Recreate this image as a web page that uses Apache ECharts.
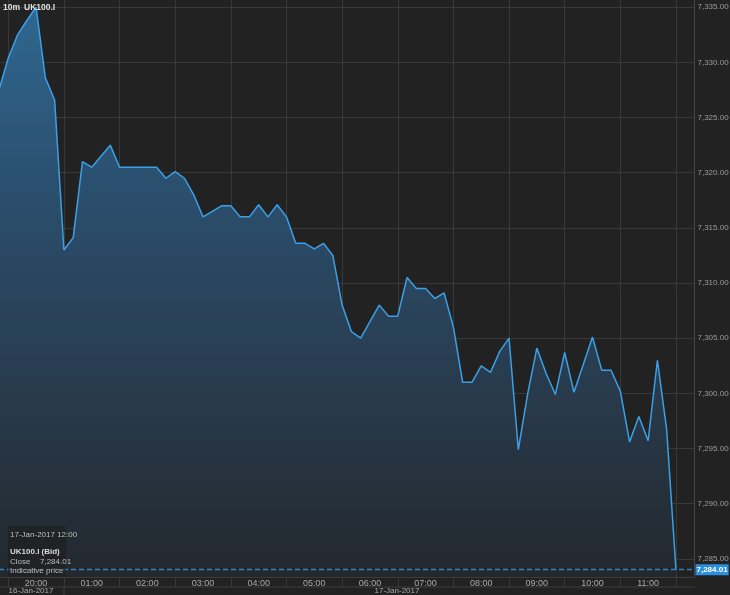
<!DOCTYPE html>
<html>
<head>
<meta charset="utf-8">
<script src="https://cdn.jsdelivr.net/npm/echarts@6/dist/echarts.min.js"></script>
<style>
html,body{margin:0;padding:0;background:#222222;}
#chart{width:730px;height:595px;}
</style>
</head>
<body>
<div id="chart"></div>
<script>
// 10-minute bars, index 0 = 19:50 on 16-Jan, index 1 = 20:00, index 7 = 01:00 on 17-Jan ... index 73 = 12:00
const times = ["19:50","20:00","20:10","20:20","20:30","20:40","20:50",
  "01:00","01:10","01:20","01:30","01:40","01:50",
  "02:00","02:10","02:20","02:30","02:40","02:50",
  "03:00","03:10","03:20","03:30","03:40","03:50",
  "04:00","04:10","04:20","04:30","04:40","04:50",
  "05:00","05:10","05:20","05:30","05:40","05:50",
  "06:00","06:10","06:20","06:30","06:40","06:50",
  "07:00","07:10","07:20","07:30","07:40","07:50",
  "08:00","08:10","08:20","08:30","08:40","08:50",
  "09:00","09:10","09:20","09:30","09:40","09:50",
  "10:00","10:10","10:20","10:30","10:40","10:50",
  "11:00","11:10","11:20","11:30","11:40","11:50",
  "12:00","12:10","12:20"];
const closePrices = [7327.5,7330.4,7332.5,7333.8,7335.0,7328.6,7326.6,
  7313.0,7314.1,7321.0,7320.5,7321.5,7322.5,
  7320.5,7320.5,7320.5,7320.5,7320.5,7319.5,
  7320.1,7319.5,7318.0,7316.0,7316.5,7317.0,
  7317.0,7316.0,7316.0,7317.1,7316.0,7317.1,
  7316.0,7313.6,7313.6,7313.1,7313.6,7312.5,
  7308.0,7305.6,7305.0,7306.5,7308.0,7307.0,
  7307.0,7310.5,7309.5,7309.5,7308.6,7309.1,
  7306.0,7301.0,7301.0,7302.5,7301.9,7303.8,
  7305.0,7294.9,7299.9,7304.1,7301.8,7299.9,
  7303.7,7300.1,7302.6,7305.1,7302.1,7302.1,
  7300.2,7295.6,7297.9,7295.7,7303.0,7296.7,
  7284.01,null,null];
const lastPrice = 7284.01;
const yTicks = [7285,7290,7295,7300,7305,7310,7315,7320,7325,7330,7335];
const dayLabels = ["16-Jan-2017","17-Jan-2017"];

const fmt = v => v.toLocaleString('en-US',{minimumFractionDigits:2,maximumFractionDigits:2});
const FONT = 'Liberation Sans, Arial, sans-serif';
const gridColor = '#393939';

const chart = echarts.init(document.getElementById('chart'), null, {renderer:'canvas'});
const hourMark = i => i >= 1 && (i - 1) % 6 === 0 && i <= 73;
chart.setOption({
  backgroundColor: '#222222',
  animation: false,
  grid: {left: -1, right: 35.5, top: 0, bottom: 18, outerBoundsMode: 'none', containLabel: false},
  xAxis: {
    type: 'category',
    data: times,
    boundaryGap: false,
    axisLine: {show: true, lineStyle: {color: '#3c3c3c'}},
    axisTick: {show: true, interval: (i) => hourMark(i), length: 10, lineStyle: {color: gridColor}},
    axisLabel: {
      interval: (i) => i >= 4 && (i - 4) % 6 === 0 && i <= 70,
      formatter: v => v.slice(0,2) + ':00',
      color: '#a8a8a8', fontSize: 9, fontFamily: FONT, margin: 2
    },
    splitLine: {show: true, interval: (i) => hourMark(i), lineStyle: {color: gridColor}}
  },
  yAxis: {
    type: 'value',
    position: 'right',
    min: 7283.35,
    max: 7335.66,
    axisLine: {show: true, lineStyle: {color: '#444'}},
    axisTick: {show: false, customValues: yTicks},
    axisLabel: {
      customValues: yTicks,
      color: '#9c9c9c', fontSize: 8, fontFamily: FONT, margin: 3,
      formatter: v => fmt(v)
    },
    splitLine: {show: true, lineStyle: {color: gridColor}}
  },
  series: [{
    type: 'line',
    data: closePrices,
    symbol: 'none',
    connectNulls: false,
    lineStyle: {color: '#3ba0e6', width: 1.5},
    areaStyle: {
      origin: 'start',
      opacity: 1,
      color: new echarts.graphic.LinearGradient(0,0,0,1,[
        {offset:0, color:'#2f6790'},
        {offset:0.3, color:'#2b5070'},
        {offset:0.7, color:'#28394a'},
        {offset:1, color:'#23282d'}
      ])
    },
    markLine: {
      silent: true,
      symbol: 'none',
      data: [{yAxis: lastPrice}],
      lineStyle: {color: '#2a85c8', type: [5,3], width: 1.3},
      label: {
        position: 'end', distance: 1,
        formatter: () => fmt(lastPrice),
        backgroundColor: '#2b8fe0', color: '#ffffff', fontWeight: 'bold',
        fontSize: 8, fontFamily: FONT, padding: [2,1,1,1]
      }
    }
  }],
  graphic: [
    {type:'text', z: 100, left: 3, top: 3, style:{text:'10m', fill:'#e0e0e0', font:'bold 8.5px ' + FONT}},
    {type:'text', z: 100, left: 24, top: 3, style:{text:'UK100.I', fill:'#e0e0e0', font:'bold 8.5px ' + FONT}},
    {type:'rect', z: 99, shape:{x:8, y:526, width:58, height:51}, style:{fill:'rgba(30,30,30,0.6)'}},
    {type:'text', z: 100, left: 10, top: 531, style:{text:'17-Jan-2017 12:00', fill:'#bcbcbc', font:'8px ' + FONT}},
    {type:'text', z: 100, left: 10, top: 548, style:{text:'UK100.I (Bid)', fill:'#d8d8d8', font:'bold 8px ' + FONT}},
    {type:'text', z: 100, left: 10, top: 558, style:{text:'Close', fill:'#bcbcbc', font:'8px ' + FONT}},
    {type:'text', z: 100, left: 40, top: 558, style:{text:fmt(lastPrice), fill:'#bcbcbc', font:'8px ' + FONT}},
    {type:'text', z: 100, left: 10, top: 567, style:{text:'Indicative price', fill:'#bcbcbc', font:'8px ' + FONT}},
    {type:'line', z: 100, shape:{x1:0, y1:587, x2:695, y2:587}, style:{stroke:'#3c3c3c', lineWidth:1}},
    {type:'line', z: 100, shape:{x1:64, y1:587, x2:64, y2:595}, style:{stroke:'#3c3c3c', lineWidth:1}},
    {type:'text', z: 100, x: 31, y: 591, style:{text:dayLabels[0], fill:'#a8a8a8', font:'8px ' + FONT, textAlign:'center', textVerticalAlign:'middle'}},
    {type:'text', z: 100, x: 397, y: 591, style:{text:dayLabels[1], fill:'#a8a8a8', font:'8px ' + FONT, textAlign:'center', textVerticalAlign:'middle'}}
  ]
});
</script>
</body>
</html>
